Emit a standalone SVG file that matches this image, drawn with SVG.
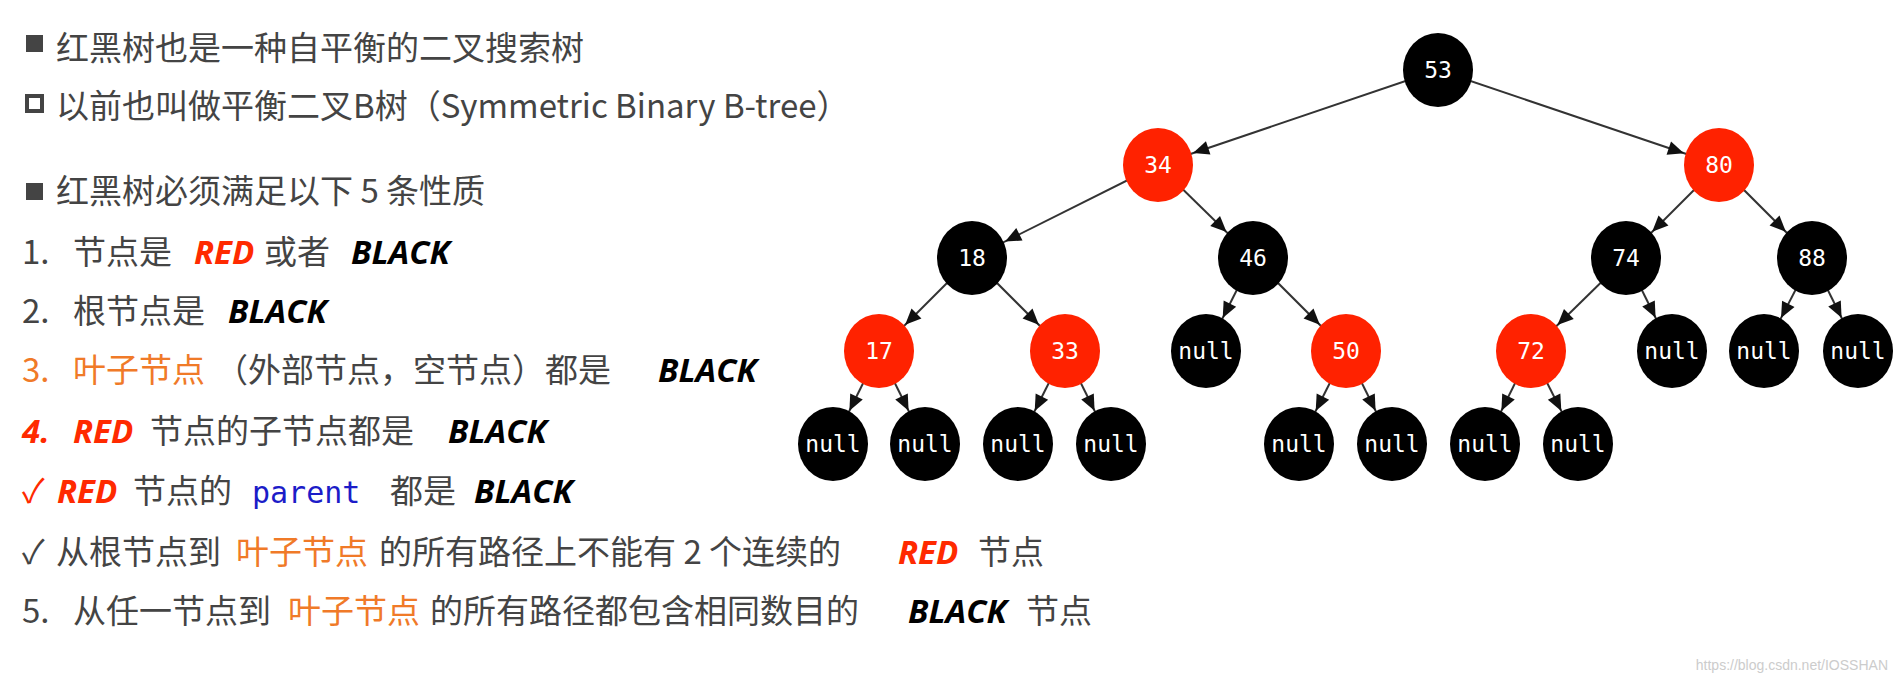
<svg xmlns="http://www.w3.org/2000/svg" width="1898" height="682" viewBox="0 0 1898 682">
<style>
.t{font-family:"Noto Sans CJK SC","Open Sans",sans-serif;font-size:33px;fill:#444}
.o{fill:#f07a28}
.k{font-family:"Open Sans","Liberation Sans",sans-serif;font-weight:bold;font-style:italic;fill:#000}
.r{font-family:"Open Sans","Liberation Sans",sans-serif;font-weight:bold;font-style:italic;fill:#ff2a00}
.m{font-family:"DejaVu Sans Mono",monospace;fill:#1c1cc8;font-size:30px}
.b{fill:#000}.rd{fill:#ff2200}
.n text{font-family:"DejaVu Sans Mono",monospace;font-size:23px;fill:#fff;text-anchor:middle;dominant-baseline:central}
.e line{stroke:#333;stroke-width:2}
</style>
<defs>
<marker id="a" markerUnits="userSpaceOnUse" viewBox="-20 -10 70 20" markerWidth="70" markerHeight="20" refX="37" refY="0" orient="auto" overflow="visible">
<path d="M-16,-7 L0,0 L-16,7 z" fill="#111"/>
</marker>
</defs>
<rect width="1898" height="682" fill="#fff"/>
<g id="text">
<rect x="26" y="35" width="17" height="17" fill="#444"/>
<text class="t" x="56" y="60">红黑树也是一种自平衡的二叉搜索树</text>
<rect x="27" y="96" width="15" height="15" fill="none" stroke="#444" stroke-width="4"/>
<text class="t" x="56" y="118">以前也叫做平衡二叉B树（Symmetric Binary B-tree）</text>
<rect x="26" y="183" width="17" height="17" fill="#444"/>
<text class="t" x="56" y="203">红黑树必须满足以下 5 条性质</text>
<text class="t" y="264"><tspan x="22">1.</tspan><tspan x="73">节点是</tspan><tspan class="r" x="194">RED</tspan><tspan x="264">或者</tspan><tspan class="k" x="351">BLACK</tspan></text>
<text class="t" y="323"><tspan x="22">2.</tspan><tspan x="73">根节点是</tspan><tspan class="k" x="228">BLACK</tspan></text>
<text class="t" y="382"><tspan class="o" x="22">3.</tspan><tspan class="o" x="73">叶子节点</tspan><tspan x="215">（外部节点，空节点）都是</tspan><tspan class="k" x="658">BLACK</tspan></text>
<text class="t" y="443"><tspan class="r" x="22" font-style="normal">4.</tspan><tspan class="r" x="73">RED</tspan><tspan x="150">节点的子节点都是</tspan><tspan class="k" x="448">BLACK</tspan></text>
<text class="t" y="503"><tspan x="22" fill="#ff2a00">✓</tspan><tspan class="r" x="57">RED</tspan><tspan x="133">节点的</tspan><tspan class="m" x="252">parent</tspan><tspan x="390">都是</tspan><tspan class="k" x="474">BLACK</tspan></text>
<text class="t" y="564"><tspan x="22">✓</tspan><tspan x="56">从根节点到</tspan><tspan class="o" x="236">叶子节点</tspan><tspan x="379">的所有路径上不能有 2 个连续的</tspan><tspan class="r" x="898">RED</tspan><tspan x="978">节点</tspan></text>
<text class="t" y="623"><tspan x="22">5.</tspan><tspan x="73">从任一节点到</tspan><tspan class="o" x="288">叶子节点</tspan><tspan x="430">的所有路径都包含相同数目的</tspan><tspan class="k" x="908">BLACK</tspan><tspan x="1026">节点</tspan></text>
<text x="1888" y="670" text-anchor="end" font-family="Liberation Sans,sans-serif" font-size="14" fill="#ccc">https://blog.csdn.net/IOSSHAN</text>
</g>
<g class="e" id="connectors" marker-end="url(#a)">
<line x1="1438" y1="70" x2="1158" y2="165" marker-end="url(#a)"/>
<line x1="1438" y1="70" x2="1719" y2="165" marker-end="url(#a)"/>
<line x1="1158" y1="165" x2="972" y2="258" marker-end="url(#a)"/>
<line x1="1158" y1="165" x2="1253" y2="258" marker-end="url(#a)"/>
<line x1="1719" y1="165" x2="1626" y2="258" marker-end="url(#a)"/>
<line x1="1719" y1="165" x2="1812" y2="258" marker-end="url(#a)"/>
<line x1="972" y1="258" x2="879" y2="351" marker-end="url(#a)"/>
<line x1="972" y1="258" x2="1065" y2="351" marker-end="url(#a)"/>
<line x1="1253" y1="258" x2="1206" y2="351" marker-end="url(#a)"/>
<line x1="1253" y1="258" x2="1346" y2="351" marker-end="url(#a)"/>
<line x1="1626" y1="258" x2="1531" y2="351" marker-end="url(#a)"/>
<line x1="1626" y1="258" x2="1672" y2="351" marker-end="url(#a)"/>
<line x1="1812" y1="258" x2="1764" y2="351" marker-end="url(#a)"/>
<line x1="1812" y1="258" x2="1858" y2="351" marker-end="url(#a)"/>
<line x1="879" y1="351" x2="833" y2="444" marker-end="url(#a)"/>
<line x1="879" y1="351" x2="925" y2="444" marker-end="url(#a)"/>
<line x1="1065" y1="351" x2="1018" y2="444" marker-end="url(#a)"/>
<line x1="1065" y1="351" x2="1111" y2="444" marker-end="url(#a)"/>
<line x1="1346" y1="351" x2="1299" y2="444" marker-end="url(#a)"/>
<line x1="1346" y1="351" x2="1392" y2="444" marker-end="url(#a)"/>
<line x1="1531" y1="351" x2="1485" y2="444" marker-end="url(#a)"/>
<line x1="1531" y1="351" x2="1578" y2="444" marker-end="url(#a)"/>
</g>
<g class="n">
<g id="n53"><ellipse class="b" cx="1438" cy="70" rx="35" ry="37"/><text x="1438" y="70">53</text></g>
<g id="n34"><ellipse class="rd" cx="1158" cy="165" rx="35" ry="37"/><text x="1158" y="165">34</text></g>
<g id="n80"><ellipse class="rd" cx="1719" cy="165" rx="35" ry="37"/><text x="1719" y="165">80</text></g>
<g id="n18"><ellipse class="b" cx="972" cy="258" rx="35" ry="37"/><text x="972" y="258">18</text></g>
<g id="n46"><ellipse class="b" cx="1253" cy="258" rx="35" ry="37"/><text x="1253" y="258">46</text></g>
<g id="n74"><ellipse class="b" cx="1626" cy="258" rx="35" ry="37"/><text x="1626" y="258">74</text></g>
<g id="n88"><ellipse class="b" cx="1812" cy="258" rx="35" ry="37"/><text x="1812" y="258">88</text></g>
<g id="n17"><ellipse class="rd" cx="879" cy="351" rx="35" ry="37"/><text x="879" y="351">17</text></g>
<g id="n33"><ellipse class="rd" cx="1065" cy="351" rx="35" ry="37"/><text x="1065" y="351">33</text></g>
<g id="null46l"><ellipse class="b" cx="1206" cy="351" rx="35" ry="37"/><text x="1206" y="351">null</text></g>
<g id="n50"><ellipse class="rd" cx="1346" cy="351" rx="35" ry="37"/><text x="1346" y="351">50</text></g>
<g id="n72"><ellipse class="rd" cx="1531" cy="351" rx="35" ry="37"/><text x="1531" y="351">72</text></g>
<g id="null74r"><ellipse class="b" cx="1672" cy="351" rx="35" ry="37"/><text x="1672" y="351">null</text></g>
<g id="null88l"><ellipse class="b" cx="1764" cy="351" rx="35" ry="37"/><text x="1764" y="351">null</text></g>
<g id="null88r"><ellipse class="b" cx="1858" cy="351" rx="35" ry="37"/><text x="1858" y="351">null</text></g>
<g id="null17l"><ellipse class="b" cx="833" cy="444" rx="35" ry="37"/><text x="833" y="444">null</text></g>
<g id="null17r"><ellipse class="b" cx="925" cy="444" rx="35" ry="37"/><text x="925" y="444">null</text></g>
<g id="null33l"><ellipse class="b" cx="1018" cy="444" rx="35" ry="37"/><text x="1018" y="444">null</text></g>
<g id="null33r"><ellipse class="b" cx="1111" cy="444" rx="35" ry="37"/><text x="1111" y="444">null</text></g>
<g id="null50l"><ellipse class="b" cx="1299" cy="444" rx="35" ry="37"/><text x="1299" y="444">null</text></g>
<g id="null50r"><ellipse class="b" cx="1392" cy="444" rx="35" ry="37"/><text x="1392" y="444">null</text></g>
<g id="null72l"><ellipse class="b" cx="1485" cy="444" rx="35" ry="37"/><text x="1485" y="444">null</text></g>
<g id="null72r"><ellipse class="b" cx="1578" cy="444" rx="35" ry="37"/><text x="1578" y="444">null</text></g>
</g>
</svg>
